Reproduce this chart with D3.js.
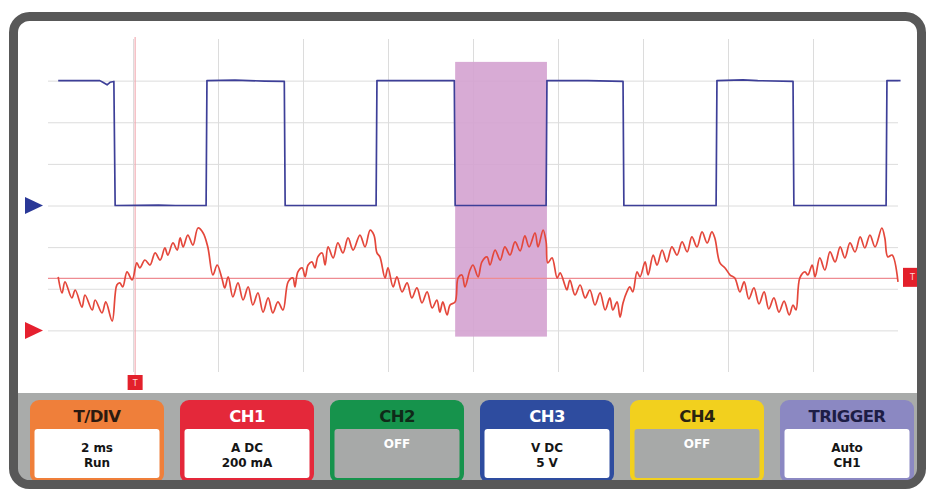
<!DOCTYPE html>
<html>
<head>
<meta charset="utf-8">
<script src="https://cdn.jsdelivr.net/npm/d3@7"></script>
<style>
  body { margin: 0; background: #fff; }
  svg { display: block; }
</style>
</head>
<body>
<svg id="scope" width="926" height="489"></svg>
<script>
// ---- Captured samples -------------------------------------------------
// CH1: current probe, [time ms, current mA]
const ch1Current = [
  [0.24,257],[0.33,180],[0.40,233],[0.56,156],[0.64,194],[0.80,112],[0.87,170],[1.04,98],
  [1.11,146],[1.27,84],[1.36,137],[1.51,45],[1.62,218],[1.69,228],[1.76,209],[1.86,281],
  [1.98,242],[2.09,324],[2.16,300],[2.28,338],[2.40,314],[2.52,372],[2.64,338],[2.75,396],
  [2.82,362],[2.94,420],[3.04,386],[3.11,444],[3.18,401],[3.29,458],[3.41,410],[3.53,492],
  [3.65,468],[3.76,401],[3.88,266],[3.98,314],[4.09,252],[4.16,204],[4.24,257],[4.35,161],
  [4.47,228],[4.59,146],[4.71,209],[4.82,122],[4.94,180],[5.06,88],[5.18,156],[5.29,84],
  [5.41,137],[5.53,98],[5.65,233],[5.76,252],[5.81,209],[5.88,281],[5.98,300],[6.05,257],
  [6.12,314],[6.21,329],[6.28,300],[6.35,353],[6.45,372],[6.52,314],[6.59,401],[6.71,348],
  [6.82,420],[6.94,372],[7.06,444],[7.18,386],[7.34,458],[7.46,401],[7.58,482],[7.67,458],
  [7.74,372],[7.81,353],[7.93,252],[8.00,300],[8.12,209],[8.21,257],[8.33,185],[8.45,228],
  [8.56,156],[8.68,204],[8.80,132],[8.92,185],[9.04,108],[9.15,146],[9.22,88],[9.29,137],
  [9.39,74],[9.46,122],[9.58,137],[9.65,252],[9.74,266],[9.81,209],[9.93,290],[10.00,314],
  [10.12,257],[10.21,329],[10.33,353],[10.40,314],[10.52,386],[10.64,338],[10.75,401],[10.87,362],
  [10.99,425],[11.11,382],[11.22,454],[11.32,401],[11.46,468],[11.53,401],[11.65,482],[11.72,425],
  [11.76,324],[11.86,348],[11.98,252],[12.05,276],[12.16,218],[12.21,194],[12.28,242],[12.40,170],
  [12.52,218],[12.64,156],[12.75,194],[12.87,122],[12.99,180],[13.11,98],[13.22,156],[13.29,98],
  [13.39,137],[13.46,64],[13.53,132],[13.62,185],[13.69,209],[13.76,185],[13.86,281],[13.93,257],
  [14.05,329],[14.12,266],[14.24,362],[14.33,314],[14.45,386],[14.56,329],[14.68,401],[14.80,362],
  [14.92,425],[15.04,377],[15.15,449],[15.27,401],[15.39,473],[15.51,420],[15.62,473],[15.69,444],
  [15.81,324],[15.93,300],[16.05,266],[16.16,252],[16.28,185],[16.38,233],[16.49,151],[16.61,204],
  [16.73,127],[16.85,185],[16.96,103],[17.08,156],[17.20,88],[17.32,141],[17.44,74],[17.53,122],
  [17.60,98],[17.69,252],[17.81,281],[17.88,266],[17.98,314],[18.05,257],[18.16,348],[18.28,290],
  [18.40,377],[18.52,329],[18.64,401],[18.75,348],[18.87,420],[18.99,377],[19.11,449],[19.22,396],
  [19.34,458],[19.46,401],[19.62,492],[19.69,444],[19.76,353],[19.86,362],[20.00,233]
];

// CH3: drive voltage, [time ms, volts]
const ch3Voltage = [
  [0.24,15.0],[1.22,15.0],[1.29,14.8],[1.39,14.5],[1.46,14.8],[1.55,14.9],[1.58,0.0],
  [2.60,0.05],[3.00,0.0],[3.72,0.0],[3.74,15.0],[4.40,15.05],[5.10,14.95],[5.56,14.9],[5.58,0.0],
  [6.60,0.0],[7.72,0.0],[7.74,15.0],[8.60,15.0],[9.56,15.0],[9.58,0.0],[11.72,0.0],
  [11.74,15.0],[12.70,15.0],[13.53,14.9],[13.55,0.0],[15.72,0.0],[15.74,15.0],[16.35,15.1],
  [16.70,15.0],[17.53,14.9],[17.55,0.0],[19.72,0.0],[19.74,15.0],[20.06,15.0]
];

// Vertical settings (per division) and channel ground offsets (divisions)
const ch1PerDiv = 200;   // mA
const ch3PerDiv = 5;     // V
const ch1Offset = -3;
const ch3Offset = 0;

const timePerDiv = 2;    // ms
const timeDivisions = 10;
const vertDivisions = 8;

const triggerLevel = 250;   // mA on CH1
const triggerTime = 2.05;   // ms
const zoomWindow = [9.58, 11.74];      // ms
const zoomWindowDiv = [3.45, -3.15];   // divisions

const panelTitles = ["T/DIV", "CH1", "CH2", "CH3", "CH4", "TRIGGER"];
const panelLines = [["2 ms", "Run"], ["A DC", "200 mA"], ["OFF"], ["V DC", "5 V"], ["OFF"], ["Auto", "CH1"]];
const panelActive = [true, true, false, true, false, true];

// ---- Styling ----------------------------------------------------------
const panelFill = ["#ef7f3a", "#e4283a", "#16934c", "#2e4c9f", "#f2d01e", "#8b88c2"];
const panelTitleInk = ["#2b1a10", "#ffffff", "#0f2a18", "#ffffff", "#2a2410", "#1d1d45"];

const svg = d3.select("#scope");
const W = 926, H = 489;

const plot = { left: 48, right: 898, top: 39, bottom: 372 };

const x = d3.scaleLinear().domain([0, timeDivisions * timePerDiv]).range([plot.left, plot.right]);
const yDiv = d3.scaleLinear().domain([-vertDivisions / 2, vertDivisions / 2]).range([plot.bottom, plot.top]);
const yCh1 = v => yDiv(v / ch1PerDiv + ch1Offset);
const yCh3 = v => yDiv(v / ch3PerDiv + ch3Offset);

// Bezel
const frame = { x: 13.5, y: 16.5, w: 908, h: 468, r: 16 };
const defs = svg.append("defs");
defs.append("clipPath").attr("id", "screenClip")
  .append("rect").attr("x", frame.x).attr("y", frame.y)
  .attr("width", frame.w).attr("height", frame.h).attr("rx", frame.r);

const screen = svg.append("g").attr("clip-path", "url(#screenClip)");
screen.append("rect").attr("x", frame.x).attr("y", frame.y)
  .attr("width", frame.w).attr("height", frame.h).attr("fill", "#ffffff");

// Graticule
const gridColor = "#dcdcdc";
const xGrid = d3.axisBottom(x)
  .tickValues(d3.range(1, timeDivisions).map(d => d * timePerDiv))
  .tickSize(-(plot.bottom - plot.top)).tickFormat("");
const gx = screen.append("g").attr("transform", `translate(0,${plot.bottom})`).call(xGrid);
gx.select(".domain").remove();
gx.selectAll(".tick line").attr("stroke", gridColor).attr("stroke-width", 1);

const yGrid = d3.axisLeft(yDiv)
  .tickValues(d3.range(-vertDivisions / 2 + 1, vertDivisions / 2))
  .tickSize(-(plot.right - plot.left)).tickFormat("");
const gy = screen.append("g").attr("transform", `translate(${plot.left},0)`).call(yGrid);
gy.select(".domain").remove();
gy.selectAll(".tick line").attr("stroke", gridColor).attr("stroke-width", 1);

// Zoom window highlight
screen.append("rect")
  .attr("x", x(zoomWindow[0])).attr("y", yDiv(zoomWindowDiv[0]))
  .attr("width", x(zoomWindow[1]) - x(zoomWindow[0]))
  .attr("height", yDiv(zoomWindowDiv[1]) - yDiv(zoomWindowDiv[0]))
  .attr("fill", "#d4a2d0").attr("opacity", 0.9);

// Trigger level and trigger time cursors
screen.append("line")
  .attr("x1", plot.left).attr("x2", plot.right)
  .attr("y1", yCh1(triggerLevel)).attr("y2", yCh1(triggerLevel))
  .attr("stroke", "#ee8c92").attr("stroke-width", 1.2);
screen.append("line")
  .attr("x1", x(triggerTime)).attr("x2", x(triggerTime))
  .attr("y1", plot.top - 2).attr("y2", plot.bottom + 3)
  .attr("stroke", "#f0a6ae").attr("stroke-width", 1.1);

// Traces
const lineCh3 = d3.line().x(d => x(d[0])).y(d => yCh3(d[1])).curve(d3.curveLinear);
screen.append("path").datum(ch3Voltage)
  .attr("d", lineCh3).attr("fill", "none")
  .attr("stroke", "#3d3f98").attr("stroke-width", 1.7).attr("stroke-linejoin", "round");

const lineCh1 = d3.line().x(d => x(d[0])).y(d => yCh1(d[1])).curve(d3.curveCatmullRom.alpha(0.5));
screen.append("path").datum(ch1Current)
  .attr("d", lineCh1).attr("fill", "none")
  .attr("stroke", "#e4473b").attr("stroke-width", 1.7).attr("stroke-linejoin", "round");

// Channel ground markers
const tri = (yc) => `M25,${yc - 8.5}L43,${yc}L25,${yc + 8.5}Z`;
screen.append("path").attr("d", tri(yCh3(0))).attr("fill", "#2a3897");
screen.append("path").attr("d", tri(yCh1(0))).attr("fill", "#e5202f");

// Trigger markers
function tMarker(cx, cy, size) {
  const g = screen.append("g");
  g.append("rect").attr("x", cx - size / 2).attr("y", cy - size / 2)
    .attr("width", size).attr("height", size).attr("fill", "#e3202b");
  g.append("text").attr("x", cx).attr("y", cy + 3)
    .attr("text-anchor", "middle").attr("fill", "#ffd6d6")
    .attr("font-family", "DejaVu Sans, sans-serif").attr("font-size", 8).text("T");
}
tMarker(x(triggerTime), 382.5, 15);
tMarker(912.5, yCh1(triggerLevel) - 1, 19);

// Control panel
const panelTop = 393;
screen.append("rect").attr("x", 0).attr("y", panelTop).attr("width", W).attr("height", H - panelTop)
  .attr("fill", "#a9abaa");

const box = { x0: 30, step: 150, w: 134, y: 400, h: 83, head: 29, border: 4.5 };
panelTitles.forEach((title, i) => {
  const bx = box.x0 + i * box.step;
  const g = screen.append("g");
  g.append("rect").attr("x", bx).attr("y", box.y).attr("width", box.w).attr("height", box.h)
    .attr("rx", 9).attr("fill", panelFill[i]);
  g.append("rect").attr("x", bx + box.border).attr("y", box.y + box.head)
    .attr("width", box.w - 2 * box.border).attr("height", box.h - box.head - box.border - 0.5)
    .attr("rx", 3).attr("fill", panelActive[i] ? "#ffffff" : "#a7a9a8");
  g.append("text").attr("x", bx + box.w / 2).attr("y", box.y + 21.5)
    .attr("text-anchor", "middle").attr("fill", panelTitleInk[i])
    .attr("font-family", "DejaVu Sans, sans-serif").attr("font-weight", "bold")
    .attr("font-size", 16.5).attr("letter-spacing", -0.6).text(title);
  const lines = panelLines[i];
  lines.forEach((ln, k) => {
    g.append("text").attr("x", bx + box.w / 2).attr("y", (panelActive[i] ? 452 : 448) + k * 14.5)
      .attr("text-anchor", "middle").attr("fill", panelActive[i] ? "#151515" : "#ffffff")
      .attr("font-family", "DejaVu Sans, sans-serif").attr("font-weight", "bold")
      .attr("font-size", 12).attr("letter-spacing", -0.1).text(ln);
  });
});

// Bezel outline on top
svg.append("rect").attr("x", frame.x).attr("y", frame.y)
  .attr("width", frame.w).attr("height", frame.h).attr("rx", frame.r)
  .attr("fill", "none").attr("stroke", "#585858").attr("stroke-width", 9);
</script>
</body>
</html>
